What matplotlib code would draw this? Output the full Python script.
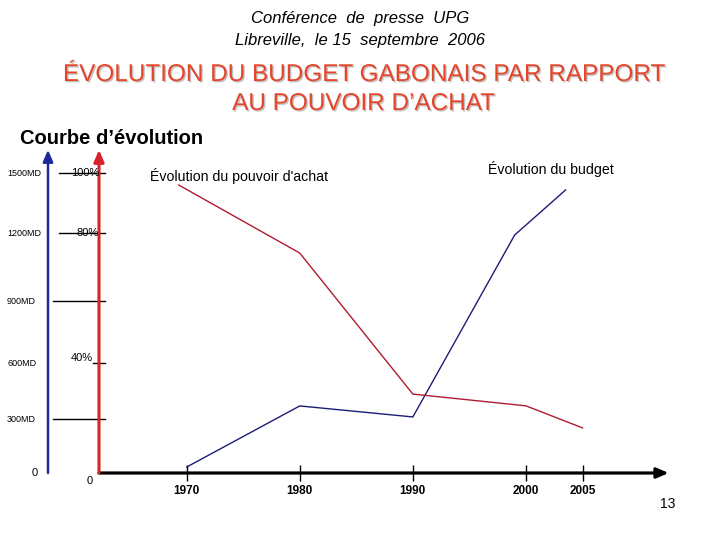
import numpy as np
import matplotlib
matplotlib.use('Agg')
import matplotlib.pyplot as plt
import matplotlib.patheffects as pe

# ---------------- data ----------------
years_budget = [1970, 1980, 1990, 1999, 2003.5]
budget_md = [33, 370, 311, 1191, 1415]
years_pouvoir = [1969.3, 1980, 1990, 2000, 2005]
pouvoir_pct = [96, 74.1, 28.9, 24.7, 16.7]
x_ticks = [1970, 1980, 1990, 2000, 2005]
md_ticks = [0, 300, 600, 900, 1200, 1500]
md_labels = ['0', '300MD', '600MD', '900MD', '1200MD', '1500MD']
pct_ticks = [0, 40, 80, 100]
pct_labels = ['0', '40%', '80%', '100%']

plt.rcParams['font.family'] = ['Liberation Sans', 'DejaVu Sans']

# hand-drawn slide axis: uneven spacing between graduations
_md_a = np.array([-1600, 0, 300, 600, 900, 1200, 1500, 1600, 3200], float)
_px_a = np.array([-320, 0, 54, 110, 172, 240, 300, 320, 640], float)


def fwd(v):
    return np.interp(np.asarray(v, float), _md_a, _px_a)


def inv(p):
    return np.interp(np.asarray(p, float), _px_a, _md_a)


fig = plt.figure(figsize=(7.2, 5.4), dpi=100)
W, H = 720, 540
L, R, T, B = 99, 667, 153, 473
ax = fig.add_axes([L / W, 1 - B / H, (R - L) / W, (B - T) / H])
ax.set_yscale('function', functions=(fwd, inv))
ax.set_ylim(0, 1600)
ax.set_xlim(1962.25, 2012.47)
for s in ax.spines.values():
    s.set_visible(False)

ax2 = ax.twinx()
ax2.set_yscale('function', functions=(lambda p: fwd(np.asarray(p, float) * 15),
                                      lambda q: inv(q) / 15))
ax2.set_ylim(0, 1600 / 15)
for s in ax2.spines.values():
    s.set_visible(False)
ax2.set_yticks([])
ax.set_yticks([])

blue_ax = '#1e2a9c'
red_ax = '#d8232a'


def fx(px):
    return (px - L) / (R - L)


ax.annotate('', xy=(1.003, 0), xytext=(0, 0), xycoords='axes fraction',
            arrowprops=dict(arrowstyle='-|>,head_length=0.7,head_width=0.3', lw=2.3,
                            color='black', shrinkA=0, shrinkB=0, mutation_scale=10),
            annotation_clip=False)
ax.annotate('', xy=(fx(48), 1.01), xytext=(fx(48), 0), xycoords='axes fraction',
            arrowprops=dict(arrowstyle='-|>,head_length=0.7,head_width=0.3', lw=1.8,
                            color=blue_ax, shrinkA=0, shrinkB=0, mutation_scale=10),
            annotation_clip=False)
ax.annotate('', xy=(0, 1.01), xytext=(0, 0), xycoords='axes fraction',
            arrowprops=dict(arrowstyle='-|>,head_length=0.7,head_width=0.3', lw=2.2,
                            color=red_ax, shrinkA=0, shrinkB=0, mutation_scale=10),
            annotation_clip=False)

# x ticks
ax.set_xticks(x_ticks)
ax.set_xticklabels([str(y) for y in x_ticks], fontsize=8.5, fontweight='bold')
ax.tick_params(axis='x', direction='inout', length=12, width=1, pad=3, color='black')

# graduation lines at left
yt = ax.get_yaxis_transform()
grad = {1500: (59, 105), 1200: (59, 105), 900: (53, 105), 600: (93, 105), 300: (53, 105)}
for v, (a, b) in grad.items():
    ax.plot([fx(a), fx(b)], [v, v], color='black', lw=1, transform=yt, clip_on=False)

# MD labels
for v, lab in zip(md_ticks, md_labels):
    if lab == '0':
        ax.text(fx(35), v, lab, transform=yt, fontsize=8, ha='center', va='center')
    else:
        ax.text(fx(7), v, lab, transform=yt, fontsize=6.5, ha='left', va='center')

# percent labels
yt2 = ax2.get_yaxis_transform()
pct_x = {'0': 90, '40%': 82, '80%': 88, '100%': 85}
for v, lab in zip(pct_ticks, pct_labels):
    va = 'bottom' if lab == '40%' else 'center'
    if lab == '0':
        ax2.text(fx(pct_x[lab]), -0.008, lab, transform=ax2.transAxes, fontsize=8,
                 ha='center', va='top')
    else:
        ax2.text(fx(pct_x[lab]), v, lab, transform=yt2, fontsize=8, ha='center', va=va)

# data lines
ax.plot(years_budget, budget_md, color='#1c1c78', lw=1.0)
ax2.plot(years_pouvoir, pouvoir_pct, color='#b01a30', lw=1.0)

# texts
fig.text(150 / W, 1 - 176 / H, "Évolution du pouvoir d'achat", fontsize=10.2,
         ha='left', va='center')
fig.text(488 / W, 1 - 169 / H, "Évolution du budget", fontsize=10.2,
         ha='left', va='center')
fig.text(360 / W, 1 - 19 / H, "Conférence  de  presse  UPG", fontsize=12,
         style='italic', ha='center', va='center')
fig.text(360 / W, 1 - 40 / H, "Libreville,  le 15  septembre  2006", fontsize=12,
         style='italic', ha='center', va='center')
shadow = [pe.withSimplePatchShadow(offset=(1, -1), shadow_rgbFace='#999999', alpha=0.6)]
fig.text(363 / W, 1 - 75 / H, "ÉVOLUTION DU BUDGET GABONAIS PAR RAPPORT", fontsize=17.5,
         color='#e5452a', ha='center', va='center', path_effects=shadow)
fig.text(363 / W, 1 - 104 / H, "AU POUVOIR D’ACHAT", fontsize=17.5,
         color='#e5452a', ha='center', va='center', path_effects=shadow)
fig.text(20 / W, 1 - 138 / H, "Courbe d’évolution", fontsize=14.5, fontweight='bold',
         ha='left', va='center')
fig.text(668 / W, 1 - 504 / H, "13", fontsize=10, ha='center', va='center')

fig.savefig('out.png', dpi=100)
